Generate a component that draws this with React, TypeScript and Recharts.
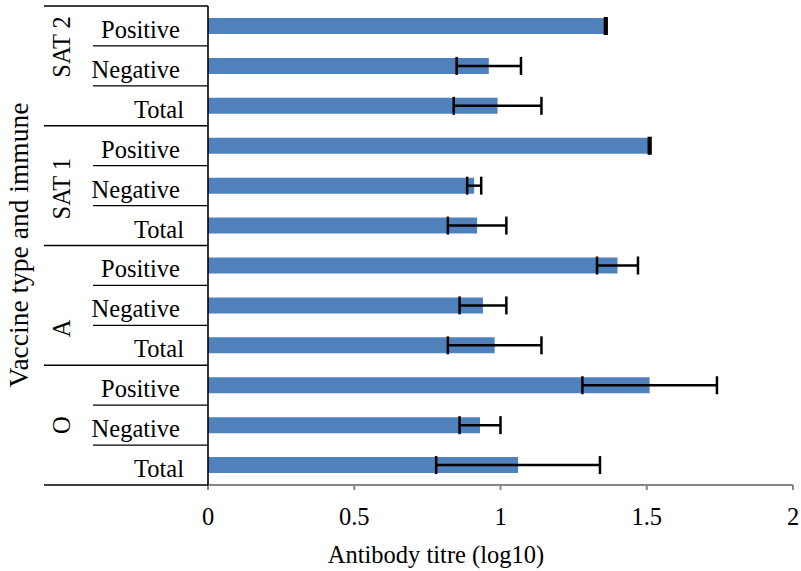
import { BarChart, Bar, XAxis, YAxis, ErrorBar } from 'recharts'

// Vaccine types (top to bottom) and immune status rows within each
const vaccineTypes = ['SAT 2', 'SAT 1', 'A', 'O']
const immuneGroups = ['Positive', 'Negative', 'Total']

// Mean antibody titre (log10), one per row, top to bottom
const titreMeans = [1.36, 0.96, 0.99, 1.51, 0.91, 0.92, 1.4, 0.94, 0.98, 1.51, 0.93, 1.06]
// Error bar half-widths
const titreErrors = [0.003, 0.11, 0.15, 0.003, 0.024, 0.1, 0.07, 0.08, 0.16, 0.23, 0.07, 0.28]

const xTicks = [0, 0.5, 1, 1.5, 2]

const chartData = vaccineTypes.flatMap((type, g) =>
  immuneGroups.map((status, s) => {
    const i = g * immuneGroups.length + s
    return {
      key: `${type}|${status}`,
      type,
      status,
      mean: titreMeans[i],
      err: titreErrors[i],
    }
  })
)

const W = 801
const H = 571
const MARGIN = { top: 6, right: 8, left: 0, bottom: 0 }
const Y_AXIS_W = 208
const X_AXIS_H = 86
const PLOT_TOP = MARGIN.top
const PLOT_BOTTOM = H - MARGIN.bottom - X_AXIS_H
const BAND = (PLOT_BOTTOM - PLOT_TOP) / chartData.length
const AXIS_X = MARGIN.left + Y_AXIS_W

const FONT = '"Liberation Serif", "Times New Roman", serif'
const FONT_SIZE = 24.5
const BAR_COLOR = '#4f81bd'

// Excel draws the group labels a little off-centre for some groups
const GROUP_LABEL_SHIFT = [-19, 3, 23, 0]

function RowTick(props: any) {
  const { y, index } = props
  const row = chartData[index]
  if (!row) return null
  const s = index % immuneGroups.length
  const g = Math.floor(index / immuneGroups.length)
  const isFirst = s === 0
  const isLast = s === immuneGroups.length - 1
  const groupCenter = y + ((immuneGroups.length - 1) / 2 - s) * BAND
  const gy = groupCenter + GROUP_LABEL_SHIFT[g]

  return (
    <g>
      <text
        x={row.status === 'Total' ? 184 : 180}
        y={y + 12}
        textAnchor="end"
        fontFamily={FONT}
        fontSize={FONT_SIZE}
        fill="#000"
      >
        {row.status}
      </text>
      {!isLast && (
        <line x1={93} x2={AXIS_X} y1={y + BAND / 2} y2={y + BAND / 2} stroke="#000" strokeWidth={1.3} />
      )}
      {isFirst && (
        <line x1={44} x2={AXIS_X} y1={y - BAND / 2} y2={y - BAND / 2} stroke="#000" strokeWidth={1.6} />
      )}
      {isLast && g === vaccineTypes.length - 1 && (
        <line x1={44} x2={AXIS_X} y1={y + BAND / 2} y2={y + BAND / 2} stroke="#000" strokeWidth={1.6} />
      )}
      {s === 1 && (
        <text
          x={70}
          y={gy}
          transform={`rotate(-90 70 ${gy})`}
          textAnchor="middle"
          fontFamily={FONT}
          fontSize={FONT_SIZE}
          fill="#000"
        >
          {row.type}
        </text>
      )}
    </g>
  )
}

function XTitle() {
  return (
    <text x={436} y={563} textAnchor="middle" fontFamily={FONT} fontSize={FONT_SIZE} fill="#000">
      Antibody titre (log10)
    </text>
  )
}

function YTitle() {
  const cy = 245
  return (
    <text
      x={28}
      y={cy}
      transform={`rotate(-90 28 ${cy})`}
      textAnchor="middle"
      fontFamily={FONT}
      fontSize={27.5}
      fill="#000"
    >
      Vaccine type and immune
    </text>
  )
}

export default function App() {
  return (
    <div style={{ position: 'absolute', left: 0, top: 0, width: W, height: H, background: '#fff' }}>
      <BarChart width={W} height={H} data={chartData} layout="vertical" margin={MARGIN}>
        <XAxis
          type="number"
          domain={[0, 2]}
          ticks={xTicks}
          height={X_AXIS_H}
          axisLine={{ stroke: '#868686', strokeWidth: 2 }}
          tickLine={{ stroke: '#868686', strokeWidth: 2 }}
          tickSize={5}
          tickMargin={18}
          tick={{ fontFamily: FONT, fontSize: FONT_SIZE, fill: '#000' }}
          label={<XTitle />}
        />
        <YAxis
          type="category"
          dataKey="key"
          width={Y_AXIS_W}
          axisLine={{ stroke: '#000', strokeWidth: 1.6 }}
          tickLine={false}
          interval={0}
          tick={RowTick}
          label={<YTitle />}
        />
        <Bar dataKey="mean" fill={BAR_COLOR} barSize={16} isAnimationActive={false}>
          <ErrorBar dataKey="err" direction="x" width={9} stroke="#000" strokeWidth={2.5} isAnimationActive={false} />
        </Bar>
      </BarChart>
    </div>
  )
}
